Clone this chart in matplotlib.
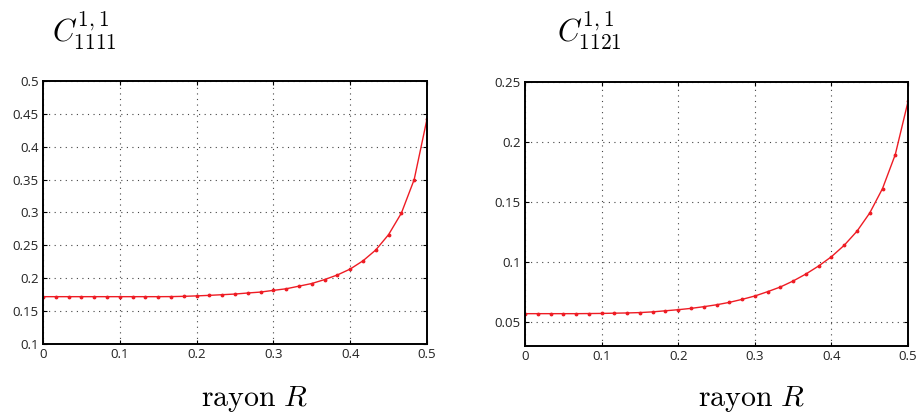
import matplotlib
matplotlib.use("Agg")
from matplotlib import pyplot as plt

plt.rcParams['mathtext.fontset'] = 'cm'
plt.rcParams['font.family'] = ['Open Sans', 'DejaVu Sans']

# rayon R : 31 points, pas de 1/60
rayon = [i / 60 for i in range(31)]

# C^{1,1}_{1111}
c1111 = [0.172, 0.172, 0.172, 0.172, 0.172, 0.172, 0.172, 0.172, 0.172, 0.172,
         0.1721, 0.1725, 0.1732, 0.174, 0.175, 0.176, 0.1776, 0.179, 0.1816, 0.184,
         0.188, 0.192, 0.198, 0.205, 0.214, 0.2265, 0.243, 0.2663, 0.299, 0.35,
         0.442]

# C^{1,1}_{1121}
c1121 = [0.057, 0.057, 0.057, 0.057, 0.057, 0.0571, 0.0572, 0.0574, 0.0576, 0.0579,
         0.0585, 0.0594, 0.0603, 0.0614, 0.0628, 0.0644, 0.0664, 0.0689, 0.0717, 0.0753,
         0.0792, 0.0842, 0.09, 0.0967, 0.1044, 0.1139, 0.1256, 0.1408, 0.1611, 0.1894,
         0.2336]

titles = [r'$C^{1,1}_{1111}$', r'$C^{1,1}_{1121}$']
yticks_l = [0.1, 0.15, 0.2, 0.25, 0.3, 0.35, 0.4, 0.45, 0.5]
yticks_r = [0.05, 0.1, 0.15, 0.2, 0.25]
xticks = [0, 0.1, 0.2, 0.3, 0.4, 0.5]

fig = plt.figure(figsize=(9.2, 4.15), dpi=100)
ax1 = fig.add_axes([0.0467, 0.171, 0.4174, 0.634])
ax2 = fig.add_axes([0.5707, 0.166, 0.4163, 0.637])

panels = [(ax1, c1111, (0.1, 0.5), yticks_l, ['0.1', '0.15', '0.2', '0.25', '0.3', '0.35', '0.4', '0.45', '0.5']),
          (ax2, c1121, (0.03, 0.25), yticks_r, ['0.05', '0.1', '0.15', '0.2', '0.25'])]

for ax, vals, ylim, yt, ytl in panels:
    ax.plot(rayon, vals, color='#ee1c24', lw=1, marker='.', ms=3.5)
    ax.set_xlim(0, 0.5)
    ax.set_ylim(*ylim)
    ax.set_xticks(xticks)
    ax.set_xticklabels(['0', '0.1', '0.2', '0.3', '0.4', '0.5'])
    ax.set_yticks(yt)
    ax.set_yticklabels(ytl)
    ax.grid(True, color='#444444', linestyle=(0, (1, 4)), lw=0.8)
    ax.tick_params(direction='in', top=True, right=True, labelsize=9.5,
                   length=3, pad=3, labelcolor='#222222')
    for s in ax.spines.values():
        s.set_linewidth(1.4)

fig.text(0.056, 0.9, titles[0], fontsize=22)
fig.text(0.605, 0.9, titles[1], fontsize=22)
fig.text(0.277, 0.022, r'$\mathrm{rayon}\ R$', fontsize=21.5, ha='center')
fig.text(0.817, 0.022, r'$\mathrm{rayon}\ R$', fontsize=21.5, ha='center')

fig.savefig('out.png', dpi=100)
